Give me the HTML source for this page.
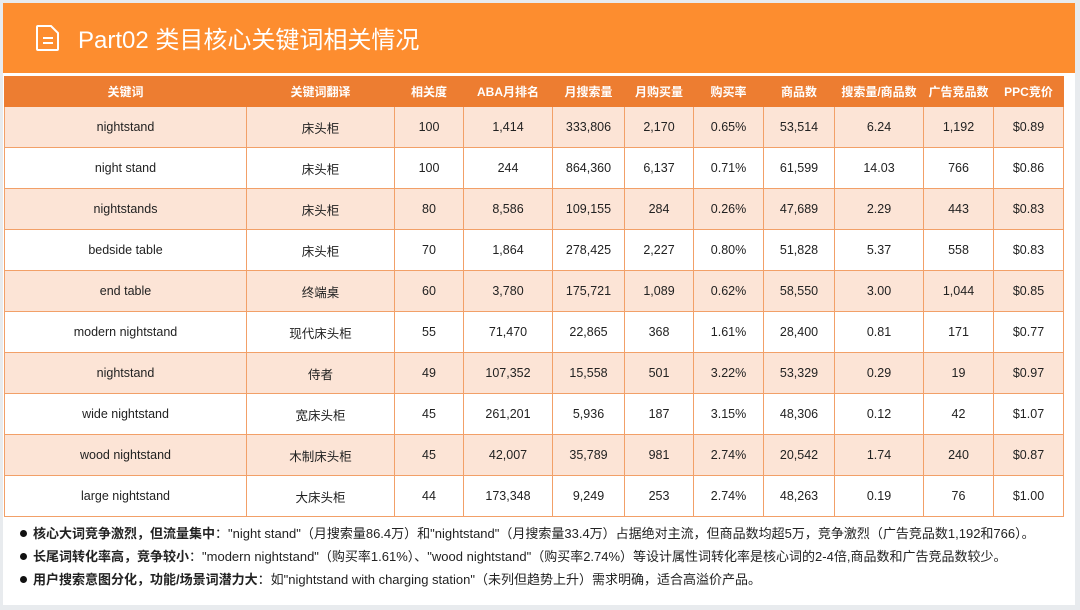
<!DOCTYPE html>
<html><head><meta charset="utf-8">
<style>
body{margin:0;width:1080px;height:610px;background:#e8ebee;font-family:"Liberation Sans","Noto Sans CJK SC",sans-serif;position:relative;overflow:hidden}
#card{position:absolute;left:3px;top:3px;width:1072px;height:602px;background:#fff}
#band{position:absolute;left:3px;top:3px;width:1072px;height:70px;background:#fd8d2f}
#title{position:absolute;left:78px;top:20px;font-size:24px;color:#fff;font-family:"Liberation Sans","Noto Sans CJK SC",sans-serif}
table{position:absolute;left:4px;top:76px;border-collapse:collapse;table-layout:fixed;font-size:12.5px;color:#222}
th{background:#ed7d31;color:#fff;font-weight:bold;height:29px;font-size:12px;padding:0;border:1px solid #ed7d31}
td{height:40px;text-align:center;padding:0;border:1px solid #f2a068}
tr.a td{background:#fce4d6}
#notes{position:absolute;left:20px;top:522px;font-size:13px;color:#222;line-height:23px}
#notes b{font-weight:bold}
.bl{display:inline-block;width:7px;height:7px;border-radius:50%;background:#111;margin-right:6px;vertical-align:1px}
</style></head><body>
<div id="card"></div>
<div id="band"></div>
<svg style="position:absolute;left:35px;top:24px" width="26" height="28" viewBox="0 0 26 28"><path d="M3 2h13l7 7v16a1 1 0 0 1-1 1H3a1 1 0 0 1-1-1V3a1 1 0 0 1 1-1z" fill="none" stroke="#fff" stroke-width="2"/><path d="M8 14h10M8 19h10" stroke="#fff" stroke-width="2"/></svg>
<div id="title">Part02 类目核心关键词相关情况</div>
<table>
<colgroup><col style="width:242px"><col style="width:148px"><col style="width:69px"><col style="width:89px"><col style="width:72px"><col style="width:69px"><col style="width:70px"><col style="width:71px"><col style="width:89px"><col style="width:70px"><col style="width:70px"></colgroup>
<thead><tr><th>关键词</th><th>关键词翻译</th><th>相关度</th><th>ABA月排名</th><th>月搜索量</th><th>月购买量</th><th>购买率</th><th>商品数</th><th>搜索量/商品数</th><th>广告竞品数</th><th>PPC竞价</th></tr></thead>
<tbody id="tb"></tbody></table>
<div id="notes">
<div><span class="bl"></span><b>核心大词竞争激烈，但流量集中</b>："night stand"（月搜索量86.4万）和"nightstand"（月搜索量33.4万）占据绝对主流，但商品数均超5万，竞争激烈（广告竞品数1,192和766）。</div>
<div><span class="bl"></span><b>长尾词转化率高，竞争较小</b>："modern nightstand"（购买率1.61%）、"wood nightstand"（购买率2.74%）等设计属性词转化率是核心词的2-4倍,商品数和广告竞品数较少。</div>
<div><span class="bl"></span><b>用户搜索意图分化，功能/场景词潜力大</b>：如"nightstand with charging station"（未列但趋势上升）需求明确，适合高溢价产品。</div>
</div>
<script>
const keywords=["nightstand","night stand","nightstands","bedside table","end table","modern nightstand","nightstand","wide nightstand","wood nightstand","large nightstand"];
const translations=["床头柜","床头柜","床头柜","床头柜","终端桌","现代床头柜","侍者","宽床头柜","木制床头柜","大床头柜"];
const relevance=["100","100","80","70","60","55","49","45","45","44"];
const abaRank=["1,414","244","8,586","1,864","3,780","71,470","107,352","261,201","42,007","173,348"];
const searches=["333,806","864,360","109,155","278,425","175,721","22,865","15,558","5,936","35,789","9,249"];
const purchases=["2,170","6,137","284","2,227","1,089","368","501","187","981","253"];
const rate=["0.65%","0.71%","0.26%","0.80%","0.62%","1.61%","3.22%","3.15%","2.74%","2.74%"];
const products=["53,514","61,599","47,689","51,828","58,550","28,400","53,329","48,306","20,542","48,263"];
const ratio=["6.24","14.03","2.29","5.37","3.00","0.81","0.29","0.12","1.74","0.19"];
const ads=["1,192","766","443","558","1,044","171","19","42","240","76"];
const ppc=["$0.89","$0.86","$0.83","$0.83","$0.85","$0.77","$0.97","$1.07","$0.87","$1.00"];
const tb=document.getElementById('tb');
keywords.forEach((k,i)=>{
const tr=document.createElement('tr');


if(i%2===0)tr.className='a';
[k,translations[i],relevance[i],abaRank[i],searches[i],purchases[i],rate[i],products[i],ratio[i],ads[i],ppc[i]].forEach(v=>{
const td=document.createElement('td');


td.textContent=v;tr.appendChild(td);});
tb.appendChild(tr);});
</script>
</body></html>
